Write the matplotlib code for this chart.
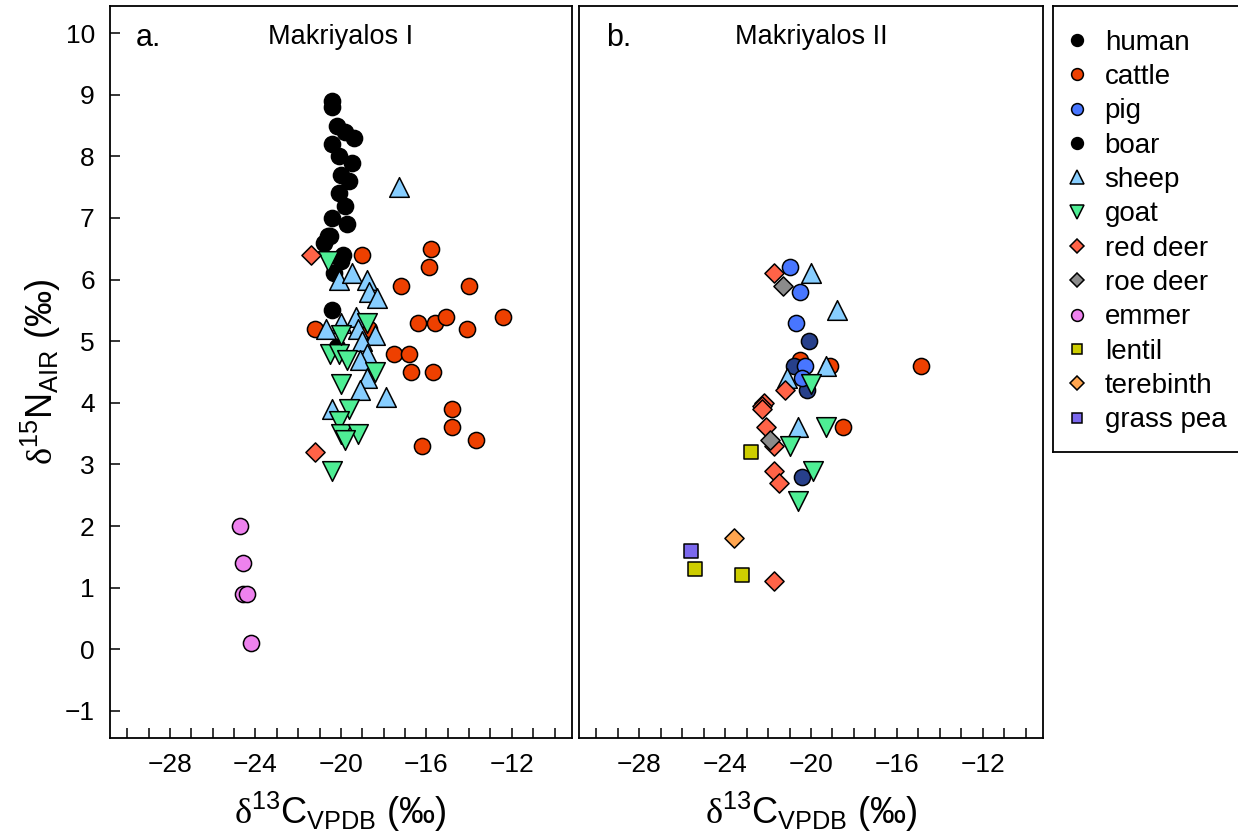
import numpy as np
import matplotlib
matplotlib.use("Agg")
import matplotlib.pyplot as plt
from matplotlib.lines import Line2D

plt.rcParams['font.family'] = ['Liberation Sans', 'DejaVu Sans']
plt.rcParams['mathtext.fontset'] = 'custom'
plt.rcParams['mathtext.rm'] = 'Liberation Sans'
plt.rcParams['mathtext.it'] = 'Liberation Sans:italic'
plt.rcParams['mathtext.sf'] = 'Liberation Serif'

# ---- panel a: Makriyalos I ----
human_x = [-20.4, -20.4, -20.2, -19.8, -19.4, -20.4, -20.1, -19.5, -20.0, -19.6, -20.1,
           -19.8, -20.4, -19.7, -20.6, -20.8, -20.5, -19.9, -20.0, -20.3, -20.4, -20.2]
human_y = [8.9, 8.8, 8.5, 8.4, 8.3, 8.2, 8.0, 7.9, 7.7, 7.6, 7.4,
           7.2, 7.0, 6.9, 6.7, 6.6, 6.7, 6.4, 6.3, 6.1, 5.5, 4.9]

cattle_a_x = [-19.0, -15.8, -15.9, -17.2, -14.0, -21.2, -18.7, -16.4, -15.6, -15.1, -14.1,
              -12.4, -17.5, -16.8, -16.7, -15.7, -14.8, -14.8, -13.7, -16.2]
cattle_a_y = [6.4, 6.5, 6.2, 5.9, 5.9, 5.2, 5.2, 5.3, 5.3, 5.4, 5.2,
              5.4, 4.8, 4.8, 4.5, 4.5, 3.9, 3.6, 3.4, 3.3]

sheep_a_x = [-17.3, -20.1, -19.5, -18.8, -18.7, -18.3, -20.0, -20.7, -19.3, -19.2, -18.4,
             -19.0, -18.8, -19.1, -18.8, -19.1, -17.9, -20.4]
sheep_a_y = [7.5, 6.0, 6.1, 6.0, 5.8, 5.7, 5.3, 5.2, 5.4, 5.2, 5.1,
             5.0, 4.8, 4.7, 4.4, 4.2, 4.1, 3.9]

goat_a_x = [-20.6, -20.5, -20.1, -19.7, -20.0, -18.4, -19.6, -20.1, -20.0, -19.2, -19.8,
            -20.4, -20.0, -18.8]
goat_a_y = [6.3, 4.8, 4.8, 4.7, 4.3, 4.5, 3.9, 3.7, 3.5, 3.5, 3.4,
            2.9, 5.1, 5.3]

reddeer_a_x = [-21.4, -21.2]
reddeer_a_y = [6.4, 3.2]

emmer_x = [-24.7, -24.6, -24.6, -24.4, -24.2]
emmer_y = [2.0, 1.4, 0.9, 0.9, 0.1]

# ---- panel b: Makriyalos II ----
cattle_b_x = [-20.5, -19.1, -18.5, -14.9]
cattle_b_y = [4.7, 4.6, 3.6, 4.6]

boar_x = [-20.1, -20.8, -20.2, -20.4]
boar_y = [5.0, 4.6, 4.2, 2.8]

pig_x = [-21.0, -20.5, -20.7, -20.3, -20.4]
pig_y = [6.2, 5.8, 5.3, 4.6, 4.4]

sheep_b_x = [-20.0, -18.8, -19.3, -21.1, -20.6]
sheep_b_y = [6.1, 5.5, 4.6, 4.4, 3.6]

goat_b_x = [-20.0, -19.3, -21.0, -19.9, -20.6]
goat_b_y = [4.3, 3.6, 3.3, 2.9, 2.4]

reddeer_b_x = [-21.7, -21.2, -22.2, -22.3, -22.3, -22.1, -21.7, -21.7, -21.5, -21.7]
reddeer_b_y = [6.1, 4.2, 4.0, 3.95, 3.9, 3.6, 3.3, 2.9, 2.7, 1.1]

roedeer_x = [-21.3, -21.9]
roedeer_y = [5.9, 3.4]

lentil_x = [-22.8, -25.4, -23.2]
lentil_y = [3.2, 1.3, 1.2]

terebinth_x = [-23.6]
terebinth_y = [1.8]

grasspea_x = [-25.6]
grasspea_y = [1.6]

legend_labels = ['human', 'cattle', 'pig', 'boar', 'sheep', 'goat', 'red deer',
                 'roe deer', 'emmer', 'lentil', 'terebinth', 'grass pea']

col = {'human': 'black', 'cattle': '#EE4000', 'pig': '#4876FF', 'boar': '#27408B',
       'sheep': '#87CEFF', 'goat': '#4EEE94', 'red deer': '#FF6347', 'roe deer': '#8B8B8B',
       'emmer': '#EE82EE', 'lentil': '#CDCD00', 'terebinth': '#FFA54F', 'grass pea': '#7B68EE'}
mk = {'human': 'o', 'cattle': 'o', 'pig': 'o', 'boar': 'o', 'sheep': '^', 'goat': 'v',
      'red deer': 'D', 'roe deer': 'D', 'emmer': 'o', 'lentil': 's', 'terebinth': 'D',
      'grass pea': 's'}
size = {'o': 135, '^': 200, 'v': 200, 'D': 95, 's': 100}

fig = plt.figure(figsize=(12.38, 8.35), dpi=100)
axa = fig.add_axes([0.0889, 0.1162, 0.3729, 0.8766])
axb = fig.add_axes([0.4677, 0.1162, 0.3748, 0.8766])
lax = fig.add_axes([0.8506, 0.4587, 0.16, 0.5341])


def pts(ax, name, x, y, face=None):
    m = mk[name]
    ax.scatter(x, y, marker=m, s=size[m], c=face or col[name],
               edgecolors='black', linewidths=1.1, zorder=3)


pts(axa, 'human', human_x, human_y)
pts(axa, 'cattle', cattle_a_x, cattle_a_y)
pts(axa, 'sheep', sheep_a_x, sheep_a_y)
pts(axa, 'goat', goat_a_x, goat_a_y)
pts(axa, 'red deer', reddeer_a_x, reddeer_a_y)
pts(axa, 'emmer', emmer_x, emmer_y)

pts(axb, 'cattle', cattle_b_x, cattle_b_y)
pts(axb, 'boar', boar_x, boar_y)
pts(axb, 'pig', pig_x, pig_y)
pts(axb, 'sheep', sheep_b_x, sheep_b_y)
pts(axb, 'goat', goat_b_x, goat_b_y)
pts(axb, 'red deer', reddeer_b_x, reddeer_b_y)
pts(axb, 'roe deer', roedeer_x, roedeer_y)
pts(axb, 'lentil', lentil_x, lentil_y)
pts(axb, 'terebinth', terebinth_x, terebinth_y)
pts(axb, 'grass pea', grasspea_x, grasspea_y)

xlab = r'$\mathsf{δ}^{13}\mathrm{C}_{\mathrm{VPDB}}$ (‰)'
ylab = r'$\mathsf{δ}^{15}\mathrm{N}_{\mathrm{AIR}}$ (‰)'

for ax in (axa, axb):
    ax.set_xlim(-30.8, -9.2)
    ax.set_ylim(-1.44, 10.44)
    ax.set_xticks(np.arange(-30, -9, 1), minor=True)
    ax.set_xticks([-28, -24, -20, -16, -12])
    ax.tick_params(axis='x', which='both', direction='in', length=7, width=1.1,
                   labelsize=19, pad=11)
    for s in ax.spines.values():
        s.set_linewidth(1.3)
    ax.set_xlabel(xlab, fontsize=26, labelpad=9)

axa.set_yticks(np.arange(-1, 11, 1))
axa.tick_params(axis='y', direction='in', length=7, width=1.1, labelsize=19, pad=11)
axa.set_ylabel(ylab, fontsize=26, labelpad=1)
axb.set_yticks([])

axa.text(0.056, 0.956, 'a.', transform=axa.transAxes, fontsize=22, ha='left', va='center')
axa.text(0.5, 0.958, 'Makriyalos I', transform=axa.transAxes, fontsize=19.5,
         ha='center', va='center')
axb.text(0.058, 0.956, 'b.', transform=axb.transAxes, fontsize=22, ha='left', va='center')
axb.text(0.5, 0.958, 'Makriyalos II', transform=axb.transAxes, fontsize=19.5,
         ha='center', va='center')

# legend box
lax.set_xticks([])
lax.set_yticks([])
for s in lax.spines.values():
    s.set_linewidth(1.3)
leg_size = {'o': 8.5, '^': 10, 'v': 10, 'D': 7.5, 's': 7.5}
handles = []
for lab in legend_labels:
    face = 'black' if lab == 'boar' else col[lab]
    m = mk[lab]
    handles.append(Line2D([], [], linestyle='none', marker=m, markersize=leg_size[m],
                          markerfacecolor=face, markeredgecolor='black',
                          markeredgewidth=1.1))
lax.legend(handles, legend_labels, loc='upper left', bbox_to_anchor=(-0.055, 1.0),
           frameon=False, fontsize=20,
           handlelength=0.8, handletextpad=0.6, labelspacing=0.30,
           borderaxespad=0.2, borderpad=0.65)

fig.savefig('out.png', dpi=100)
